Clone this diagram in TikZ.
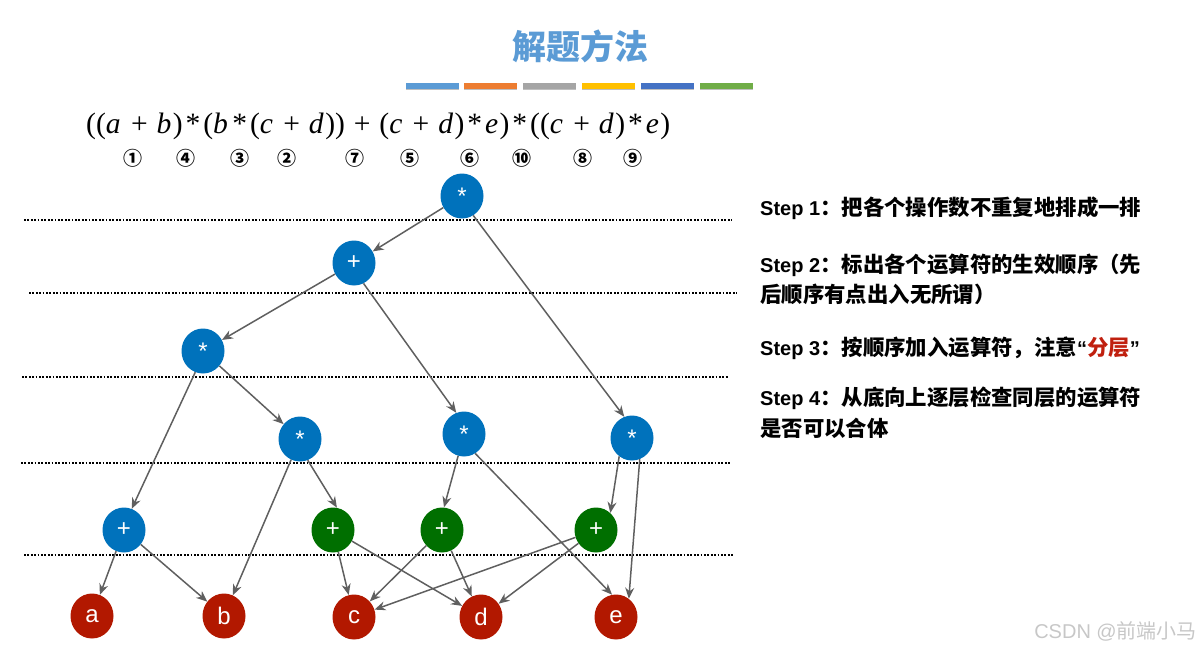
\documentclass[tikz,border=0pt]{standalone}
\usepackage{fontspec}
\usepackage{graphicx}
\setmainfont{Liberation Sans}
\newfontfamily\cjk{Noto Sans CJK SC}
\newfontfamily\tms{Liberation Serif}
\usetikzlibrary{arrows.meta,shapes.geometric}
\definecolor{nblue}{HTML}{0072BC}
\definecolor{ngreen}{HTML}{006F00}
\definecolor{nred}{HTML}{B21800}
\definecolor{edgec}{HTML}{5F5F5F}
\definecolor{titlec}{HTML}{5B9BD5}
\definecolor{hl}{HTML}{C0200F}
\newcommand\vv[1]{\textit{#1}\kern0.5pt}
\newcommand\pl{\kern3pt+\kern3pt}
\newcommand\st{\kern1pt*\kern1pt}
\tikzset{
  opnode/.style={ellipse, minimum width=43pt, minimum height=45pt, inner sep=0pt, text=white, font=\fontsize{24}{24}\selectfont},
  bluen/.style={opnode, fill=nblue},
  greenn/.style={opnode, fill=ngreen},
  redn/.style={opnode, fill=nred},
  edge/.style={draw=edgec, line width=1.5pt, -{Stealth[length=11pt,width=9pt]}},
  layer/.style={line width=1.7pt, dash pattern=on 1.7pt off 1.7pt},
  steptxt/.style={anchor=west, inner sep=0pt, font=\fontsize{20}{20}\selectfont\bfseries},
  circnum/.style={font=\cjk\bfseries\fontsize{19}{19}\selectfont, inner sep=0pt},
  bar/.style={inner sep=0pt, minimum width=53pt, minimum height=6pt},
}
\newcommand\zh[1]{{\cjk\fontsize{21.4}{21.4}\selectfont #1}}
\begin{document}
\begin{tikzpicture}[x=1pt,y=-1pt]
\useasboundingbox (0,0) rectangle (1204,651);
% title
\node[font=\cjk\bfseries\fontsize{34}{34}\selectfont, text=titlec] (title) at (580,46) {解题方法};
\foreach \cx/\col [count=\i] in {432/5B9BD5,490/ED7D31,549/A5A5A5,608/FFC000,667/4472C4,726/70AD47}{
  \definecolor{barc}{HTML}{\col}
  \node[bar, fill=black!25] (bs\i) at (\cx+0.8,87) {};
  \node[bar, fill=barc] (bar\i) at (\cx,85.5) {};
}
% formula
\node[inner sep=0pt, anchor=west] (formula) at (86,126) {\resizebox{584pt}{!}{\tms ((\vv{a}\pl\vv{b})\st(\vv{b}\st(\vv{c}\pl\vv{d}))\pl(\vv{c}\pl\vv{d})\st\vv{e})\st((\vv{c}\pl\vv{d})\st\vv{e})}};
\foreach \x/\s [count=\i] in {133/①,186/④,240/③,287/②,355/⑦,410/⑤,470/⑥,522/⑩,583/⑧,633/⑨}{
  \node[circnum] (cn\i) at (\x,158) {\s};
}
% layer lines
\draw[layer] (24,220) -- (732,220);
\draw[layer] (29,293) -- (737,293);
\draw[layer] (22,377) -- (729,377);
\draw[layer] (21,463) -- (730,463);
\draw[layer] (24,555) -- (733,555);
% nodes
\node[bluen] (root) at (462,196) {*};
\node[bluen] (p1) at (354,263) {+};
\node[bluen] (sL) at (203,351) {*};
\node[bluen] (sML) at (300,439) {*};
\node[bluen] (sM) at (464,434) {*};
\node[bluen] (sR) at (632,438) {*};
\node[bluen] (pB) at (124,530) {+};
\node[greenn] (g1) at (333,530) {+};
\node[greenn] (g2) at (442,530) {+};
\node[greenn] (g3) at (596,530) {+};
\node[redn] (a) at (92,616) {a};
\node[redn] (b) at (224,616) {b};
\node[redn] (c) at (354,617) {c};
\node[redn] (d) at (481,617) {d};
\node[redn] (e) at (616,617) {e};
% edges
\draw[edge] (root) -- (p1);
\draw[edge] (root.300) -- (sR.110);
\draw[edge] (p1) -- (sL);
\draw[edge] (p1.295) -- (sM.110);
\draw[edge] (sL) -- (sML);
\draw[edge] (sL.250) -- (pB.70);
\draw[edge] (sML) -- (b);
\draw[edge] (sML.290) -- (g1.80);
\draw[edge] (sM.255) -- (g2.85);
\draw[edge] (sM.300) -- (e.100);
\draw[edge] (sR.235) -- (g3.50);
\draw[edge] (sR.290) -- (e.55);
\draw[edge] (pB) -- (a);
\draw[edge] (pB) -- (b);
\draw[edge] (g1) -- (c);
\draw[edge] (g1) -- (d);
\draw[edge] (g2) -- (c);
\draw[edge] (g2) -- (d);
\draw[edge] (g3) -- (c);
\draw[edge] (g3) -- (d);
% steps
\node[steptxt] (s1) at (760,208) {Step 1\zh{：把各个操作数不重复地排成一排}};
\node[steptxt] (s2) at (760,265) {Step 2\zh{：标出各个运算符的生效顺序（先}};
\node[steptxt] (s2b) at (760,294) {\zh{后顺序有点出入无所谓）}};
\node[steptxt] (s3) at (760,348) {Step 3\zh{：按顺序加入运算符，注意}“\zh{\color{hl}分层}”};
\node[steptxt] (s4) at (760,398) {Step 4\zh{：从底向上逐层检查同层的运算符}};
\node[steptxt] (s4b) at (760,428) {\zh{是否可以合体}};
% watermark
\node[anchor=east, inner sep=0pt, text=black!22, font=\fontsize{20}{20}\selectfont] (wm) at (1197,631) {CSDN @{\cjk 前端小马}};
\end{tikzpicture}
\end{document}
